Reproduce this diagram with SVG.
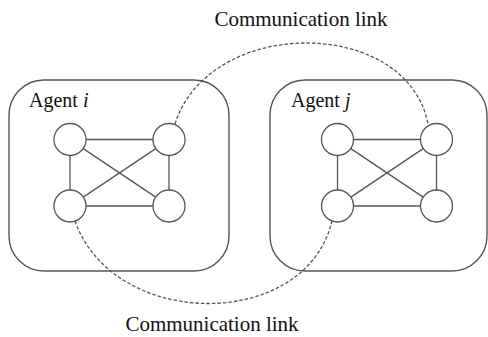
<svg xmlns="http://www.w3.org/2000/svg" width="488" height="337" viewBox="0 0 488 337">
  <style>
    .box { fill: none; stroke: #555; stroke-width: 1.4; }
    .node { fill: #fff; stroke: #555; stroke-width: 1.3; }
    .edge { stroke: #555; stroke-width: 1.3; fill: none; }
    .link { fill: none; stroke: #555; stroke-width: 1.3; stroke-dasharray: 3.5 2; }
    .lbl { font-family: "Liberation Serif", "Times New Roman", serif; fill: #111; }
  </style>
  <rect width="488" height="337" fill="#fff"/>

  <!-- Agent i -->
  <g id="agent-i">
    <rect class="box" x="9" y="80" width="220" height="191" rx="35" ry="35"/>
    <text class="lbl" x="29" y="107" font-size="20">Agent <tspan font-style="italic">i</tspan></text>
    <g class="edge">
      <line x1="86" y1="139.5" x2="153" y2="139.5"/>
      <line x1="86" y1="206" x2="153" y2="206"/>
      <line x1="70" y1="155.5" x2="70" y2="190"/>
      <line x1="169" y1="155.5" x2="169" y2="190"/>
      <line x1="83.3" y1="148.6" x2="155.7" y2="197.1"/>
      <line x1="83.3" y1="197.1" x2="155.7" y2="148.6"/>
    </g>
    <circle id="i-n1" class="node" cx="70" cy="139.5" r="16"/>
    <circle id="i-n2" class="node" cx="169" cy="139.5" r="16"/>
    <circle id="i-n3" class="node" cx="70" cy="206" r="16"/>
    <circle id="i-n4" class="node" cx="169" cy="206" r="16"/>
  </g>

  <!-- Agent j -->
  <g id="agent-j">
    <rect class="box" x="270" y="80" width="217" height="191" rx="35" ry="35"/>
    <text class="lbl" x="291" y="107" font-size="20">Agent <tspan font-style="italic">j</tspan></text>
    <g class="edge">
      <line x1="353.5" y1="139.5" x2="420.5" y2="139.5"/>
      <line x1="353.5" y1="206" x2="420.5" y2="206"/>
      <line x1="337.5" y1="155.5" x2="337.5" y2="190"/>
      <line x1="436.5" y1="155.5" x2="436.5" y2="190"/>
      <line x1="350.8" y1="148.6" x2="423.2" y2="197.1"/>
      <line x1="350.8" y1="197.1" x2="423.2" y2="148.6"/>
    </g>
    <circle id="j-n1" class="node" cx="337.5" cy="139.5" r="16"/>
    <circle id="j-n2" class="node" cx="436.5" cy="139.5" r="16"/>
    <circle id="j-n3" class="node" cx="337.5" cy="206" r="16"/>
    <circle id="j-n4" class="node" cx="436.5" cy="206" r="16"/>
  </g>

  <!-- inter-agent links -->
  <g id="links">
    <path class="link" d="M175,124 C209,16 407,16 428,124"/>
    <path class="link" d="M75,221 C114,331 306,331 332,221"/>
  </g>

  <text class="lbl" x="301" y="26" font-size="21" text-anchor="middle">Communication link</text>
  <text class="lbl" x="212" y="331" font-size="21" text-anchor="middle">Communication link</text>
</svg>
